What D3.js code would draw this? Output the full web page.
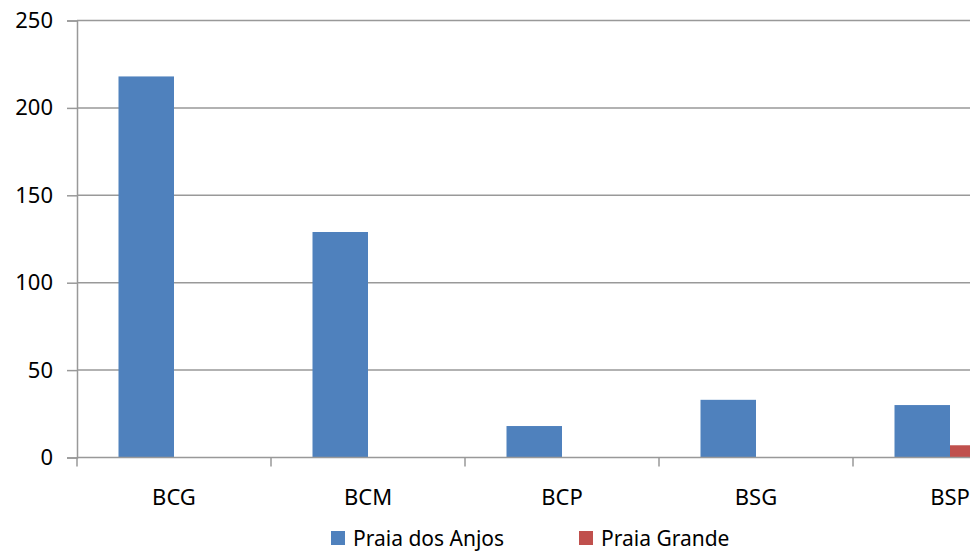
<!DOCTYPE html>
<html lang="en">
    <head>
        <meta charset="utf-8">
        <title>Bar chart</title>
        <script src="https://d3js.org/d3.v7.min.js"></script>
        <style type="text/css">
            body { margin: 0; background: #fff; }
            text { font-family: "Noto Sans", sans-serif; fill: #000; }
        </style>
    </head>
    <body>
        <script type="text/javascript">

            // data
            const categories = ["BCG", "BCM", "BCP", "BSG", "BSP"];
            const seriesNames = ["Praia dos Anjos", "Praia Grande"];
            const anjos = [218, 129, 18, 33, 30];
            const grande = [0, 0, 0, 0, 7];
            const yTicks = [0, 50, 100, 150, 200, 250];
            const colors = ["#4F81BD", "#C0504D"];

            const width = 970;
            const height = 552;
            const left = 77;
            const band = 194;
            const fontSize = 22;

            const rows = categories.map((c, i) => ({cat: c, vals: [anjos[i], grande[i]]}));

            const svg = d3.select("body")
                        .append("svg")
                        .attr("width", width)
                        .attr("height", height);

            const xScale = d3.scaleBand()
                            .domain(categories)
                            .range([left, left + band * categories.length])
                            .padding(0);

            const xInner = d3.scaleBand()
                            .domain(seriesNames)
                            .range([41.5, 152.5])
                            .padding(0);

            const yScale = d3.scaleLinear()
                            .domain([0, 250])
                            .range([457.5, 20.5]);

            // gridlines + left axis
            const leftAxis = d3.axisLeft(yScale)
                            .tickValues(yTicks)
                            .tickSize(10)
                            .tickPadding(14);

            const gy = svg.append("g")
                .attr("transform", "translate(" + left + ",0)")
                .call(leftAxis);
            gy.select(".domain").attr("stroke", "#999").attr("stroke-width", 1.5);
            gy.selectAll(".tick line").attr("stroke", "#999").attr("stroke-width", 1.5);
            gy.selectAll(".tick text")
                .attr("font-size", fontSize)
                .attr("font-family", "Noto Sans");

            svg.append("g")
                .selectAll("line")
                .data(yTicks.filter(d => d > 0))
                .enter()
                .append("line")
                .attr("x1", left)
                .attr("x2", width)
                .attr("y1", d => yScale(d))
                .attr("y2", d => yScale(d))
                .attr("stroke", "#999")
                .attr("stroke-width", 1.5);

            // bars
            const groups = svg.append("g")
                .selectAll("g")
                .data(rows)
                .enter()
                .append("g")
                .attr("transform", d => "translate(" + xScale(d.cat) + ",0)");

            groups.selectAll("rect")
                .data(d => d.vals.map((v, i) => ({name: seriesNames[i], v: v, i: i})))
                .enter()
                .append("rect")
                .attr("x", d => xInner(d.name))
                .attr("width", xInner.bandwidth())
                .attr("y", d => yScale(d.v))
                .attr("height", d => yScale(0) - yScale(d.v))
                .attr("fill", d => colors[d.i]);

            // bottom axis
            const bottomAxis = d3.axisBottom(xScale)
                            .tickSize(0)
                            .tickPadding(32);

            const gx = svg.append("g")
                .attr("transform", "translate(0," + yScale(0) + ")")
                .call(bottomAxis);
            gx.select(".domain").remove();
            gx.selectAll(".tick text")
                .attr("font-size", fontSize)
                .attr("font-family", "Noto Sans");

            svg.append("line")
                .attr("x1", left)
                .attr("x2", width)
                .attr("y1", yScale(0))
                .attr("y2", yScale(0))
                .attr("stroke", "#999")
                .attr("stroke-width", 1.5);

            svg.append("g")
                .selectAll("line")
                .data(d3.range(categories.length + 1))
                .enter()
                .append("line")
                .attr("x1", d => left + d * band)
                .attr("x2", d => left + d * band)
                .attr("y1", yScale(0))
                .attr("y2", yScale(0) + 9)
                .attr("stroke", "#999")
                .attr("stroke-width", 1.5);

            // legend
            const legendX = [331, 579];
            const legend = svg.append("g")
                .selectAll("g")
                .data(seriesNames)
                .enter()
                .append("g")
                .attr("transform", (d, i) => "translate(" + legendX[i] + ",531)");

            legend.append("rect")
                .attr("width", 14)
                .attr("height", 14)
                .attr("fill", (d, i) => colors[i]);

            legend.append("text")
                .attr("x", 22)
                .attr("y", 15)
                .attr("font-size", 21)
                .text(d => d);

        </script>
    </body>
</html>
